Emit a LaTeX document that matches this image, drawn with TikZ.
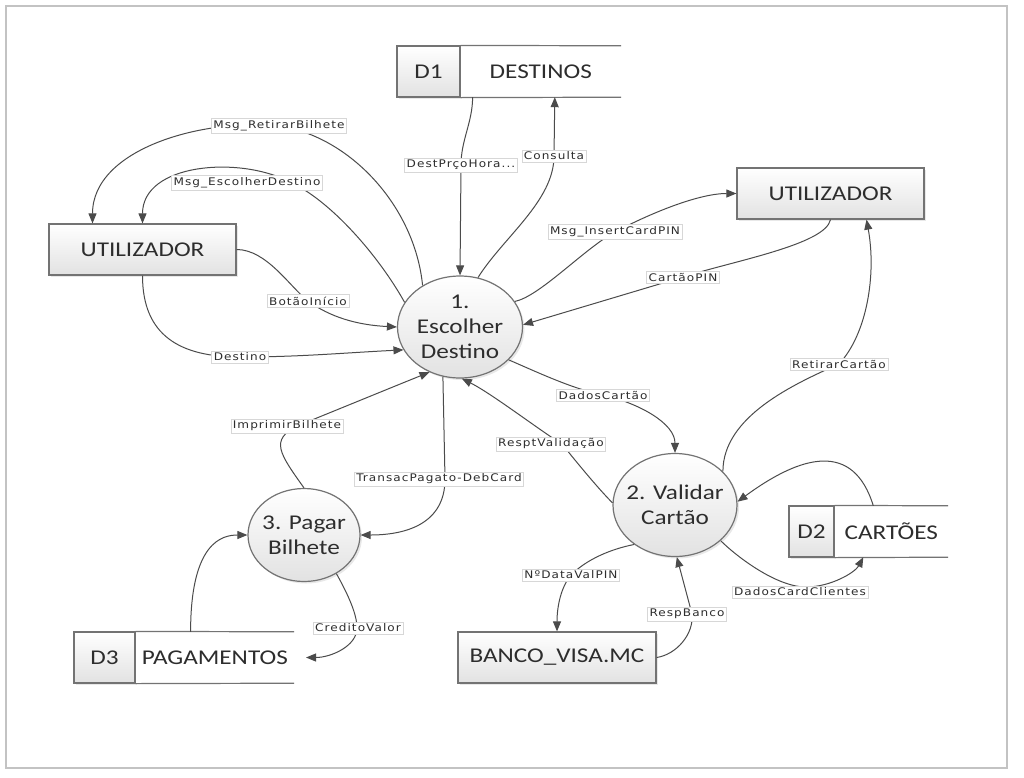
\documentclass[tikz,border=0pt]{standalone}
\usepackage{fontspec}
\setmainfont{Carlito}[FakeStretch=1.2]
\newfontfamily\flowfont{DejaVu Sans}[FakeStretch=1.15,LetterSpace=10]
\usepackage{xcolor}
\usetikzlibrary{
  arrows.meta,
  positioning,
  shapes.geometric,
  shadows
}
\definecolor{linegray}{RGB}{75,75,75}
\definecolor{boxgray}{RGB}{115,115,115}
\definecolor{fillgray}{RGB}{226,226,226}
\definecolor{framegray}{RGB}{195,195,195}
\definecolor{textgray}{RGB}{45,45,45}
\definecolor{labelgray}{RGB}{215,215,215}
\tikzset{
  dfdshade/.style={
    draw=boxgray,
    line width=1.2pt,
    top color=white,
    bottom color=fillgray,
    drop shadow={opacity=0.18,shadow xshift=2pt,shadow yshift=-2pt}
  },
  entitybox/.style={
    dfdshade,
    minimum width=187pt,
    minimum height=51pt,
    inner sep=0pt,
    font=\fontsize{21}{25}\selectfont,
    text=textgray
  },
  procnode/.style={
    dfdshade,
    ellipse,
    minimum width=125pt,
    minimum height=102pt,
    inner xsep=-8pt,
    inner ysep=0pt,
    align=center,
    font=\fontsize{21}{25}\selectfont,
    text=textgray
  },
  storeid/.style={
    dfdshade,
    minimum height=51pt,
    inner sep=0pt,
    font=\fontsize{21}{25}\selectfont,
    text=textgray
  },
  storename/.style={
    minimum height=51pt,
    inner sep=0pt,
    fill=white,
    font=\fontsize{21}{25}\selectfont,
    text=textgray
  },
  storeline/.style={draw=boxgray,line width=1.2pt},
  flowlabel/.style={
    fill=white,
    draw=labelgray,
    line width=0.6pt,
    inner xsep=2pt,
    inner ysep=2pt,
    font=\flowfont\fontsize{10.5}{12}\selectfont,
    text=textgray
  },
  flowarrow/.style={-{Triangle[length=10pt,width=8pt]},line width=1pt,draw=linegray,fill=none}
}
\begin{document}
\begin{tikzpicture}[x=1pt,y=-1pt]
  \useasboundingbox (0,0) rectangle (1024,777);
  \draw[framegray,line width=1.5pt] (6,6) rectangle (1007,768);

  \node[procnode] (escolher) at (460,327) {1.\\Escolher\\Destino};
  \node[procnode,minimum width=124pt,minimum height=103pt] (validar) at (675,505) {2. Validar\\Cartão};
  \node[procnode,minimum width=112pt,minimum height=93pt] (pagar) at (304,535) {3. Pagar\\Bilhete};

  \node[entitybox] (userl) at (142.5,249.5) {UTILIZADOR};
  \node[entitybox] (userr) at (830.5,193.5) {UTILIZADOR};
  \node[entitybox,minimum width=198pt] (banco) at (557,657.5) {BANCO\_VISA.MC};

  \node[storeid,minimum width=63pt] (d1) at (428.5,71.5) {D1};
  \node[storename,minimum width=160pt,right=0pt of d1] (destinos) {DESTINOS};
  \draw[storeline] (d1.north east) -- (destinos.north east) (d1.south east) -- (destinos.south east);
  \node[storeid,minimum width=45pt] (d2) at (811.5,531.5) {D2};
  \node[storename,minimum width=113pt,right=0pt of d2] (cartoes) {CARTÕES};
  \draw[storeline] (d2.north east) -- (cartoes.north east) (d2.south east) -- (cartoes.south east);
  \node[storeid,minimum width=61pt] (d3) at (104.5,657.5) {D3};
  \node[storename,minimum width=158pt,right=0pt of d3] (pagamentos) {PAGAMENTOS};
  \draw[storeline] (d3.north east) -- (pagamentos.north east) (d3.south east) -- (pagamentos.south east);

  \draw[flowarrow] (escolher.132) .. controls +(-8,-80) and +(70,10) .. (279,126) node[flowlabel] {Msg\_RetirarBilhete} .. controls +(-75,-8) and +(0,-75) .. ([xshift=-50pt]userl.north);
  \draw[flowarrow] (escolher.156) .. controls +(-25,-45) and +(43,19) .. (288,181) node[flowlabel,at={(247,183)}] {Msg\_EscolherDestino} .. controls +(-50,-25) and +(0,-60) .. (userl.north);
  \draw[flowarrow] (userl.east) .. controls +(30,0) and +(-18,-14) .. (308,301) node[flowlabel] {BotãoInício} .. controls +(22,16) and +(-40,-2) .. (escolher.180);
  \draw[flowarrow] (userl.south) .. controls +(0,60) and +(-60,0) .. (240,357) node[flowlabel] {Destino} .. controls +(60,0) and +(-60,3) .. (escolher.202);
  \draw[flowarrow] ([xshift=12pt]destinos.south west) .. controls +(0,25) and +(0,-25) .. (461,165) node[flowlabel] {DestPrçoHora...} -- (escolher.north);
  \draw[flowarrow] (escolher.70) .. controls +(25,-40) and +(0,45) .. (554,156) node[flowlabel] {Consulta} -- ([xshift=14pt]destinos.south);
  \draw[flowarrow] (escolher.25) .. controls +(25,-5) and +(-30,16) .. (615,232) node[flowlabel] {Msg\_InsertCardPIN} .. controls +(30,-16) and +(-40,0) .. (userr.west);
  \draw[flowarrow] (userr.south) .. controls +(-5,25) and +(50,-16) .. (683,277) node[flowlabel] {CartãoPIN} -- (escolher.2);
  \draw[flowarrow] (validar.35) .. controls +(0,-55) and +(-45,20) .. (839,364) node[flowlabel] {RetirarCartão} .. controls +(28,-30) and +(10,55) .. ([xshift=36pt]userr.south);
  \draw[flowarrow] (escolher.-34) .. controls +(30,13) and +(-30,-6) .. (603,395) node[flowlabel] {DadosCartão} .. controls +(35,8) and +(0,-30) .. (validar.north);
  \draw[flowarrow] (validar.178) .. controls +(-15,-15) and +(12,15) .. (562,444) node[flowlabel,at={(551,444)}] {ResptValidação} .. controls +(-20,-12) and +(30,15) .. (escolher.-88);
  \draw[flowarrow] (escolher.-109) -- (445,479) node[flowlabel,at={(439,479)}] {TransacPagato-DebCard} .. controls +(0,45) and +(45,0) .. (pagar.east);
  \draw[flowarrow] (pagar.north) .. controls +(-25,-35) and +(-27,14) .. (297,426) node[flowlabel,at={(287,426)}] {ImprimirBilhete} .. controls +(25,-10) and +(-30,12) .. (escolher.-124);
  \draw[flowarrow] ([xshift=55pt]pagamentos.north west) .. controls +(0,-90) and +(-25,0) .. (pagar.west);
  \draw[flowarrow] (pagar.-50) .. controls +(10,18) and +(0,-15) .. (357,628) node[flowlabel,at={(358,628)}] {CreditoValor} .. controls +(0,18) and +(25,0) .. ([xshift=12pt]pagamentos.east);
  \draw[flowarrow] (validar.-38) .. controls +(15,15) and +(-30,0) .. (806,587) node[flowlabel,at={(800,592)}] {DadosCardClientes} .. controls +(25,0) and +(-8,15) .. ([xshift=-28pt]cartoes.south);
  \draw[flowarrow] ([xshift=-18pt]cartoes.north) .. controls +(-20,-65) and +(64,-47) .. (validar.3);
  \draw[flowarrow] (validar.-136) .. controls +(-25,5) and +(15,-15) .. (571,575) node[flowlabel] {NºDataValPIN} .. controls +(-10,12) and +(0,-25) .. (banco.north);
  \draw[flowarrow] (banco.east) .. controls +(20,-3) and +(2,20) .. (692,614) node[flowlabel,at={(687,614)}] {RespBanco} -- (validar.-88);
\end{tikzpicture}
\end{document}
